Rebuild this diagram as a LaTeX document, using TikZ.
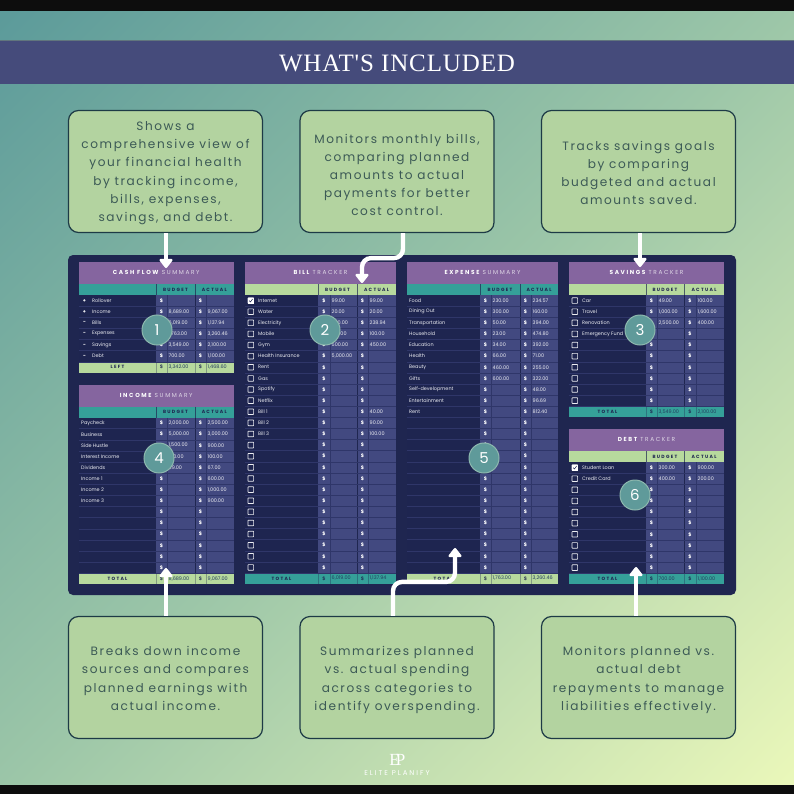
\documentclass[tikz,border=0pt]{standalone}
\usepackage{fontspec}
\usetikzlibrary{arrows.meta}
\setmainfont{Poppins}
\newfontfamily\spacedfont[LetterSpace=13]{Poppins}
\newfontfamily\headfont[LetterSpace=28]{Poppins}
\newfontfamily\titlefont[LetterSpace=3.5]{Liberation Serif}
\definecolor{bgteal}{HTML}{5B9A9A}
\definecolor{bgmid}{HTML}{9CC6A8}
\definecolor{bgpale}{HTML}{EBF8BA}
\definecolor{bannerblue}{HTML}{454B7B}
\definecolor{panelnavy}{HTML}{1F2650}
\definecolor{rownavy}{HTML}{1E2550}
\definecolor{cellblue}{HTML}{424980}
\definecolor{rowline}{HTML}{2F3669}
\definecolor{headpurple}{HTML}{85659F}
\definecolor{tealrow}{HTML}{35A099}
\definecolor{greenrow}{HTML}{B7D99D}
\definecolor{boxgreen}{HTML}{B3D3A0}
\definecolor{boxedge}{HTML}{1D3A46}
\definecolor{boxtext}{HTML}{3C5A56}
\definecolor{circleteal}{HTML}{5F9A9A}
\definecolor{circleedge}{HTML}{8DB8AE}
\tikzset{
  callout/.style = {draw = boxedge, fill = boxgreen, line width = 1.2pt, rounded corners = 10pt, minimum width = 194pt, minimum height = 122pt, inner sep = 0pt, align = center, text = boxtext, text depth = 0pt, font = \spacedfont\fontsize{12.1}{18.2}\selectfont},
  whitearrow/.style = {draw = white, line width = 4.4pt, -{Triangle[width = 15pt, length = 10pt, round]}},
  rowtext/.style = {anchor = west, inner sep = 0pt, text = white!90!cellblue, font = \fontsize{4.9}{6}\selectfont},
  dollartext/.style = {inner sep = 0pt, text = white, font = \bfseries\fontsize{4.9}{6}\selectfont},
  bandtext/.style = {inner sep = 0pt, text = panelnavy, font = \headfont\bfseries\fontsize{4.6}{6}\selectfont},
  titletext/.style = {inner sep = 0pt, text = white, font = \headfont\fontsize{5.8}{7}\selectfont},
  totaltext/.style = {anchor = west, inner sep = 0pt, text = panelnavy!80!tealrow, font = \fontsize{4.9}{6}\selectfont},
  numbercircle/.style = {circle, draw = circleedge, fill = circleteal, line width = 1pt, minimum size = 30pt, inner sep = 0pt, text = white, font = \fontsize{15}{18}\selectfont},
}
\begin{document}
\begin{tikzpicture}[x = 1pt, y = -1pt]
\useasboundingbox (0,0) rectangle (794,794);
\begin{scope}
\clip (0,0) rectangle (794,794);
\shade[top color = bgteal, bottom color = bgpale, middle color = bgmid, shading angle = 45] (-165,-165) rectangle (959,959);
\end{scope}
\fill[black!95] (0,0) rectangle (794,11);
\fill[black!95] (0,784.5) rectangle (794,794);
\fill[bannerblue] (0,40) rectangle (794,84);
\draw[boxedge!70, line width = 0.6pt] (0,40) -- (794,40);
\node[inner sep = 0pt, text = white, font = \titlefont\fontsize{25}{30}\selectfont] (title) at (397,63) {WHAT'S INCLUDED};
\fill[panelnavy, rounded corners = 5] (68,255) rectangle (736,595);
\pgfmathsetmacro\rowh{11.12};
\foreach \tab/\xa/\xb/\xc/\xd/\xe/\xf/\ya/\nr/\boldword/\word/\bandcol/\totcol/\totname/\totb/\tota/\lx/\boxes/\rows in {
  cash/79/156/167/195/206/233.5/262/6/{CASH FLOW}/SUMMARY/tealrow/greenrow/LEFT/{3,342.00}/{1,468.60}/13/0/{Rollover/{}/{}, Income/{8,689.00}/{9,067.00}, Bills/{6,019.00}/{1,137.94}, Expenses/{1,763.00}/{3,260.46}, Savings/{3,549.00}/{2,100.00}, Debt/{700.00}/{1,100.00}},
  income/79/156/167/195/206/233.5/384.5/14/INCOME/SUMMARY/tealrow/greenrow/TOTAL/{8,689.00}/{9,067.00}/2/0/{Paycheck/{2,000.00}/{2,500.00}, Business/{5,000.00}/{3,000.00}, Side Hustle/{1,500.00}/{900.00}, Interest Income/{100.00}/{100.00}, Dividends/{89.00}/{67.00}, Income 1/{}/{600.00}, Income 2/{}/{1,000.00}, Income 3/{}/{900.00}},
  bill/245/318/330/357/368/396/262/25/BILL/TRACKER/greenrow/tealrow/TOTAL/{6,019.00}/{1,137.94}/13/1/{Internet/{99.00}/{99.00}, Water/{20.00}/{20.00}, Electricity/{300.00}/{238.94}, Mobile/{100.00}/{100.00}, Gym/{500.00}/{450.00}, Health Insurance/{5,000.00}/{}, Rent/{}/{}, Gas/{}/{}, Spotify/{}/{}, Netflix/{}/{}, Bill 1/{}/{40.00}, Bill 2/{}/{90.00}, Bill 3/{}/{100.00}},
  expense/407/480/491/520/531/558/262/25/EXPENSE/SUMMARY/tealrow/greenrow/TOTAL/{1,763.00}/{3,260.46}/2/0/{Food/{230.00}/{234.57}, Dining Out/{300.00}/{160.00}, Transportation/{50.00}/{394.00}, Household/{23.00}/{474.80}, Education/{34.00}/{392.00}, Health/{66.00}/{71.00}, Beauty/{460.00}/{255.00}, Gifts/{600.00}/{322.00}, Self-development/{}/{48.00}, Entertainment/{}/{96.69}, Rent/{}/{812.40}},
  savings/569/646/657/684/696/724/262/10/SAVINGS/TRACKER/greenrow/tealrow/TOTAL/{3,549.00}/{2,100.00}/13/1/{Car/{49.00}/{100.00}, Travel/{1,000.00}/{1,600.00}, Renovation/{2,500.00}/{400.00}, Emergency Fund/{}/{}},
  debt/569/646/657/684/696/724/429/10/DEBT/TRACKER/greenrow/tealrow/TOTAL/{700.00}/{1,100.00}/13/1/{Student Loan/{300.00}/{900.00}, Credit Card/{400.00}/{200.00}}%
} {
  \pgfmathsetmacro\yb{\ya+22};
  \pgfmathsetmacro\yc{\ya+33};
  \pgfmathsetmacro\yd{\yc+\nr*\rowh};
  \pgfmathsetmacro\ye{\yd+11};
  \pgfmathsetmacro\xm{(\xa+\xf)/2};
  \fill[headpurple] (\xa,\ya) rectangle (\xf,\yb);
  \fill[\bandcol] (\xa,\yb) rectangle (\xf,\yc);
  \fill[rownavy] (\xa,\yc) rectangle (\xb,\yd);
  \fill[cellblue] (\xb,\yc) rectangle (\xf,\yd);
  \fill[\totcol] (\xa,\yd) rectangle (\xf,\ye);
  \node[titletext] (head\tab) at (\xm,\ya+10.5) {{\bfseries\boldword} \textcolor{white!75!headpurple}{\word}};
  \node[bandtext] (budhead\tab) at ({(\xb+\xd)/2},\yb+5.5) {BUDGET};
  \node[bandtext] (acthead\tab) at ({(\xd+\xf)/2},\yb+5.5) {ACTUAL};
  \foreach \x in {\xb,\xd} \draw[panelnavy!70!\bandcol, line width = 0.5pt] (\x,\yb) -- (\x,\yc);
  \foreach \x in {\xb,\xc,\xd,\xe} \draw[panelnavy!35!\totcol, line width = 0.4pt] (\x,\yd) -- (\x,\ye);
  \foreach \x in {\xc,\xe} \draw[rowline, line width = 0.5pt] (\x,\yc) -- (\x,\yd);
  \draw[panelnavy, line width = 0.6pt] (\xd,\yc) -- (\xd,\yd);
  \foreach \n in {1,...,\nr} {
    \pgfmathsetmacro\yn{\yc+(\n-0.5)*\rowh};
    \pgfmathsetmacro\yl{\yc+\n*\rowh};
    \draw[rowline, line width = 0.4pt] (\xa,\yl) -- (\xf,\yl);
    \node[dollartext] (dolb\tab\n) at ({(\xb+\xc)/2},\yn) {\$};
    \node[dollartext] (dola\tab\n) at ({(\xd+\xe)/2},\yn) {\$};
    \ifnum\boxes=1 \draw[white!90!cellblue, line width = 0.7pt, rounded corners = 0.5] (\xa+3,\yn-2.8) rectangle (\xa+8.6,\yn+2.8); \fi
  }
  \foreach \name/\bud/\act [count=\n] in \rows {
    \pgfmathsetmacro\yn{\yc+(\n-0.5)*\rowh};
    \node[rowtext] (lab\tab\n) at (\xa+\lx,\yn) {\name};
    \node[rowtext] (bud\tab\n) at (\xc+1.5,\yn) {\bud};
    \node[rowtext] (act\tab\n) at (\xe+1.5,\yn) {\act};
  }
  \node[bandtext] (tot\tab) at ({(\xa+\xb)/2},\yd+5.5) {\totname};
  \node[dollartext, text = panelnavy!80!\totcol] (totdolb\tab) at ({(\xb+\xc)/2},\yd+5.5) {\$};
  \node[dollartext, text = panelnavy!80!\totcol] (totdola\tab) at ({(\xd+\xe)/2},\yd+5.5) {\$};
  \node[totaltext] (totb\tab) at (\xc+1.5,\yd+5.5) {\totb};
  \node[totaltext] (tota\tab) at (\xe+1.5,\yd+5.5) {\tota};
}
\foreach \n/\y/\sign in {1/300.6/+,2/311.7/+,3/322.8/-,4/333.9/-,5/345.1/-,6/356.2/-}
  \node[dollartext] (sign\n) at (84.5,\y) {\sign};
\foreach \x/\y in {250.8/300.6,574.8/467.6} {
  \fill[white] (\x-3,\y-3) rectangle (\x+3,\y+3);
  \draw[panelnavy, line width = 0.5pt] (\x-1.6,\y) -- (\x-0.4,\y+1.4) -- (\x+1.8,\y-1.6);
}
\foreach \n/\x/\y in {1/157/330,2/325/330,3/640/330,4/159/458,5/484/458,6/635/495}
  \node[numbercircle] (circle\n) at (\x,\y) {\n};
\node[callout] (cashbox) at (165.5,171.5) {Shows a\\comprehensive view of\\your financial health\\by tracking income,\\bills, expenses,\\savings, and debt.};
\node[callout, text height = 89pt] (billbox) at (397,171.5) {Monitors monthly bills,\\comparing planned\\amounts to actual\\payments for better\\cost control.};
\node[callout, text height = 66.6pt] (savingsbox) at (638.5,171.5) {Tracks savings goals\\by comparing\\budgeted and actual\\amounts saved.};
\node[callout, text height = 65.6pt] (incomebox) at (165.5,677.5) {Breaks down income\\sources and compares\\planned earnings with\\actual income.};
\node[callout, text height = 65.6pt] (expensebox) at (397,677.5) {Summarizes planned\\vs. actual spending\\across categories to\\identify overspending.};
\node[callout, text height = 65.6pt] (debtbox) at (638.5,677.5) {Monitors planned vs.\\actual debt\\repayments to manage\\liabilities effectively.};
\coordinate (cashtip) at (166,268);
\coordinate (billtip) at (362,283);
\coordinate (savingstip) at (640,267);
\coordinate (incometip) at (166,568);
\coordinate (expensetip) at (455,548);
\coordinate (debttip) at (636,567);
\draw[whitearrow] ([xshift = 0.5]cashbox.south) -- (cashtip);
\draw[whitearrow, rounded corners = 9] ([xshift = 6]billbox.south) -- ++(0,25) -| (billtip);
\draw[whitearrow] ([xshift = 1.5]savingsbox.south) -- (savingstip);
\draw[whitearrow] ([xshift = 0.5]incomebox.north) -- (incometip);
\draw[whitearrow, rounded corners = 9] ([xshift = -4]expensebox.north) -- ++(0,-34) -| (expensetip);
\draw[whitearrow] ([xshift = -2.5]debtbox.north) -- (debttip);
\node[inner sep = 0pt, text = white, font = \titlefont\fontsize{17}{20}\selectfont] (logoe) at (394.5,760) {E};
\node[inner sep = 0pt, text = white, font = \titlefont\fontsize{17}{20}\selectfont] (logop) at (400.5,760) {P};
\node[inner sep = 0pt, text = white, font = \headfont\fontsize{7}{8}\selectfont] (brand) at (397,773) {ELITE PLANIFY};
\end{tikzpicture}
\end{document}
